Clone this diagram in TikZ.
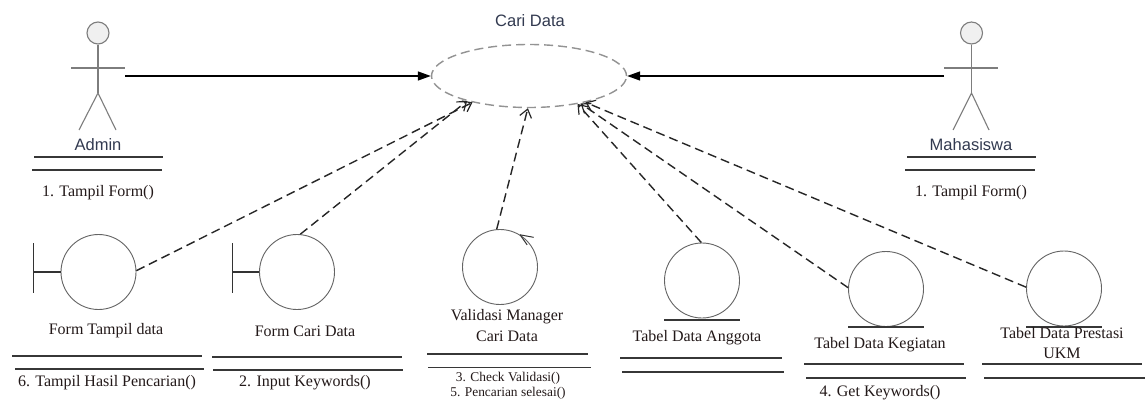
\documentclass[tikz,border=0pt]{standalone}
\usepackage{fontspec}
\setmainfont{Liberation Serif}
\newfontfamily\arialf{Liberation Sans}
\usetikzlibrary{shapes.geometric,arrows.meta}
\definecolor{actgray}{RGB}{125,125,125}
\definecolor{circgray}{RGB}{100,100,100}
\definecolor{sanscol}{RGB}{50,58,80}
\definecolor{sepcol}{RGB}{55,55,55}
\definecolor{serifcol}{RGB}{35,25,25}
\tikzset{
  usecase/.style={ellipse,draw=gray!85,dash pattern=on 9pt off 5pt,line width=1.4pt,minimum width=195pt,minimum height=63pt,inner sep=0pt},
  objcirc/.style={circle,draw=circgray,line width=0.9pt,minimum size=75pt,inner sep=0pt},
  actorline/.style={draw=actgray,line width=1.1pt},
  sanslbl/.style={font=\arialf\fontsize{16.5}{19}\selectfont,text=sanscol,inner sep=0pt},
  seriflbl/.style={font=\fontsize{16}{20.5}\selectfont,text=serifcol,inner sep=0pt,align=center},
  smalllbl/.style={font=\fontsize{13.4}{15}\selectfont,text=serifcol,inner sep=0pt,align=center},
  sepline/.style={draw=sepcol,line width=1.5pt},
  assoc/.style={draw=black,line width=1.4pt,-{Triangle[length=13pt,width=9pt]}},
  depend/.style={draw=black!85,line width=1.4pt,dash pattern=on 9pt off 5pt,-{Straight Barb[length=8pt,width=12pt,line width=1.2pt]}},
}
\begin{document}
\begin{tikzpicture}[x=1pt,y=-1pt]
\useasboundingbox (0,0) rectangle (1147,401);
\fill[white] (0,0) rectangle (1147,401);

% use case
\node[usecase] (uc) at (529,76) {};
\node[sanslbl] (uclbl) at (530,21) {Cari Data};

% Admin actor
\node[circle,draw=actgray,fill=gray!12,line width=1.1pt,minimum size=22pt,inner sep=0pt] (adminhead) at (98,33) {};
\draw[actorline] (adminhead.south) -- (98,93);
\draw[actorline] (71,68) -- (125,68);
\draw[actorline] (79,130) -- (98,93) -- (116,130);
\coordinate (adminhand) at (125,76);
\node[sanslbl] (adminlbl) at (98,145) {Admin};
\draw[sepline] (34,157) -- (163,157);
\draw[sepline] (32,170) -- (162,170);
\node[seriflbl] (adminop) at (98,193) {1. Tampil Form()};

% Mahasiswa actor
\node[circle,draw=actgray,fill=gray!12,line width=1.1pt,minimum size=22pt,inner sep=0pt] (mhshead) at (971.5,33) {};
\draw[actorline] (mhshead.south) -- (971.5,93);
\draw[actorline] (944,68) -- (998,68);
\draw[actorline] (953,130) -- (971.5,93) -- (989,130);
\coordinate (mhshand) at (944,76);
\node[sanslbl] (mhslbl) at (971,145) {Mahasiswa};
\draw[sepline] (907,157) -- (1036,157);
\draw[sepline] (905,170) -- (1035,170);
\node[seriflbl] (mhsop) at (971,193) {1. Tampil Form()};

\draw[assoc] (adminhand) -- (uc.west);
\draw[assoc] (mhshand) -- (uc.east);

% Form Tampil data (boundary)
\node[objcirc] (ft) at (98.5,272) {};
\draw[actorline,draw=black!80] (33.5,243) -- (33.5,293);
\draw[actorline,draw=black!80] (33.5,272) -- (ft.west);
\node[seriflbl] (ftlbl) at (106,331) {Form Tampil data};
\draw[sepline] (12,356) -- (202,356);
\draw[sepline] (15,369) -- (204,369);
\node[seriflbl] (ftop) at (107,383) {6. Tampil Hasil Pencarian()};

% Form Cari Data (boundary)
\node[objcirc] (fc) at (297,272) {};
\draw[actorline,draw=black!80] (232.5,243) -- (232.5,293);
\draw[actorline,draw=black!80] (232.5,272) -- (fc.west);
\node[seriflbl] (fclbl) at (305,331) {Form Cari Data};
\draw[sepline] (212,357) -- (402,357);
\draw[sepline] (213,370) -- (403,370);
\node[seriflbl] (fcop) at (305,383) {2. Input Keywords()};

% Validasi Manager Cari Data (control)
\node[objcirc] (vm) at (500,267) {};
\draw[black!80,line width=1pt] (vm.58) -- ++(13.5,2.5);
\draw[black!80,line width=1pt] (vm.58) -- ++(7,10);
\node[seriflbl] (vmlbl) at (507,325.5) {Validasi Manager\\Cari Data};
\draw[sepline] (427,354) -- (588,354);
\draw[sepline] (428,367.5) -- (591,367.5);
\node[smalllbl] (vmop) at (508,385.5) {3. Check Validasi()\\5. Pencarian selesai()};

% Tabel Data Anggota (entity)
\node[objcirc] (ta) at (702,280.5) {};
\draw[sepline,line width=1.1pt] (664,320) -- (740,320);
\node[seriflbl] (talbl) at (697,338) {Tabel Data Anggota};
\draw[sepline] (620,358) -- (782,358);
\draw[sepline] (622,372) -- (784,372);

% Tabel Data Kegiatan (entity)
\node[objcirc] (tk) at (886,289) {};
\draw[sepline,line width=1.1pt] (848,327) -- (924,327);
\node[seriflbl] (tklbl) at (880,345) {Tabel Data Kegiatan};
\draw[sepline] (804,364) -- (964,364);
\draw[sepline] (806,378) -- (966,378);
\node[seriflbl] (tkop) at (880,393) {4. Get Keywords()};

% Tabel Data Prestasi UKM (entity)
\node[objcirc] (tp) at (1064,288.5) {};
\draw[sepline,line width=1.1pt] (1026,327) -- (1102,327);
\node[seriflbl] (tplbl) at (1062,343) {Tabel Data Prestasi\\UKM};
\draw[sepline] (982,364) -- (1142,364);
\draw[sepline] (984,378) -- (1145,378);

% dependencies
\draw[depend] (ft.2) -- (uc.205);
\draw[depend] (fc.85) -- (uc.202);
\draw[depend] (vm.95) -- (uc.268);
\draw[depend] (ta.91) -- (uc.330);
\draw[depend] (tk.178) -- (uc.332);
\draw[depend] (tp.178) -- (uc.335);
\end{tikzpicture}
\end{document}
